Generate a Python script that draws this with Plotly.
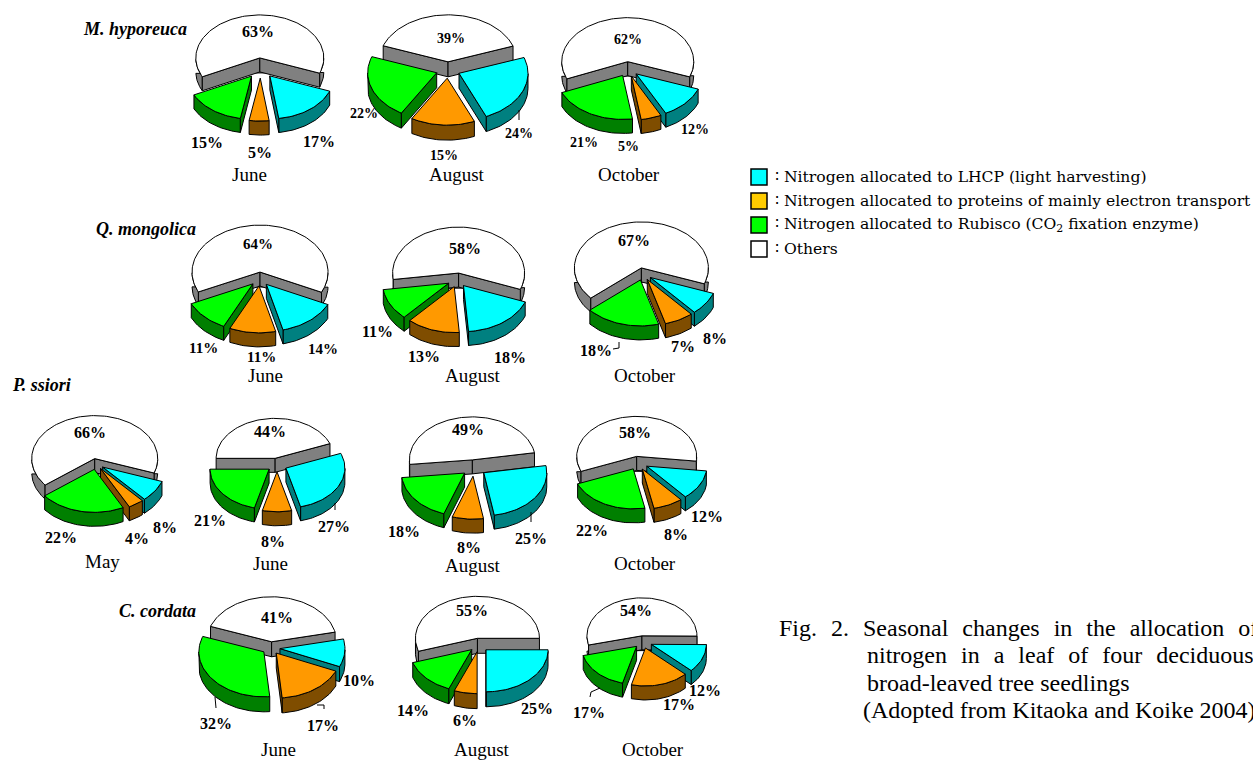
import math
import plotly.graph_objects as go

# ---- data (percent of leaf nitrogen) ----
species = ["M. hyporeuca", "Q. mongolica", "P. ssiori", "C. cordata"]
months = ["June", "August", "October",
          "June", "August", "October",
          "May", "June", "August", "October",
          "June", "August", "October"]
others = [63, 39, 62, 64, 58, 67, 66, 44, 49, 58, 41, 55, 54]
lhcp = [17, 24, 12, 14, 18, 8, 8, 27, 25, 12, 10, 25, 12]
electron = [5, 15, 5, 11, 13, 7, 4, 8, 8, 8, 17, 6, 17]
rubisco = [15, 22, 21, 11, 11, 18, 22, 21, 18, 22, 32, 14, 17]
legend_labels = ["Nitrogen allocated to LHCP (light harvesting)",
                 "Nitrogen allocated to proteins of mainly electron transport",
                 "Nitrogen allocated to Rubisco (CO<sub>2</sub> fixation enzyme)",
                 "Others"]
S = "\u00a0\u00a0\u200a"
caption = [S.join(["Fig.", "2.", "Seasonal", "changes", "in", "the", "allocation", "of"]),
           S.join(["nitrogen", "in", "a", "leaf", "of", "four", "deciduous"]),
           "broad-leaved tree seedlings",
           "(Adopted from Kitaoka and Koike 2004)"]

# ---- layout only: cx, cy, rx, ry, depth, first-slice angle, explosion ----
pies = [
    (260.5, 68, 64, 43, 14, -116, 15), (448, 70, 69, 47, 15, -70, 12), (628, 69, 66, 44, 14, -113, 11),
    (260, 279, 68, 47, 14, -115, 10), (457.5, 280, 66, 46, 14, -98, 10), (643, 274, 67, 46, 14, -131, 9),
    (96, 464, 63, 43, 14, -128, 8), (277, 465, 59, 40, 14, -90, 10), (474, 468, 63, 43, 14, -96, 12),
    (638, 463, 60, 40, 14, -112, 10),
    (271, 648, 65, 45, 15, -70, 9), (479, 645, 62, 42, 15, -108, 10), (643, 642, 55, 38, 14, -104, 9),
]
# label centres: others, lhcp, electron, rubisco, month; and % font size
labels = [
    ((258, 31), (319, 141), (260, 152), (207, 142), (249, 174), 16),
    ((451, 38), (519, 133), (444, 155), (364, 113), (457, 174), 14),
    ((628, 39), (695, 129), (628, 146), (584, 142), (629, 174), 14),
    ((258, 244), (323, 349), (261, 357), (203, 348), (265, 375), 15),
    ((465, 248), (510, 357), (424, 356), (377, 331), (473, 375), 16),
    ((634, 240), (715, 338), (683, 346), (596, 350), (645, 375), 16),
    ((90, 432), (165, 527), (137, 538), (61, 537), (102, 561), 16),
    ((270, 431), (334, 526), (273, 541), (210, 520), (270, 563), 16),
    ((468, 429), (531, 538), (469, 547), (404, 531), (473, 565), 16),
    ((635, 432), (707, 516), (676, 534), (592, 530), (645, 563), 16),
    ((277, 617), (359, 680), (323, 725), (216, 723), (278, 749), 16),
    ((472, 610), (537, 708), (465, 720), (413, 710), (482, 749), 16),
    ((636, 610), (705, 690), (679, 704), (589, 712), (653, 749), 16),
]
TOP = ["#FFFFFF", "#00FFFF", "#FF9900", "#00FF00"]
SIDE = ["#808080", "#008080", "#7F4D00", "#007F00"]
SERIF = "Liberation Serif"

fig = go.Figure()


def poly(xs, ys, color):
    fig.add_trace(go.Scatter(x=xs, y=ys, mode="lines", fill="toself", fillcolor=color,
                             line=dict(color="#000000", width=1), hoverinfo="skip", showlegend=False))


def wedge(cx, cy, rx, ry, depth, t0, t1, explode, top, side):
    mid = math.radians((t0 + t1) / 2)
    ox = cx + explode * math.sin(mid)
    oy = cy - explode * (ry / rx) * math.cos(mid)
    n = max(3, int(abs(t1 - t0) / 2))
    ang = [t0 + (t1 - t0) * k / n for k in range(n + 1)]
    px = [ox + rx * math.sin(math.radians(a)) for a in ang]
    py = [oy - ry * math.cos(math.radians(a)) for a in ang]
    # visible outer wall
    vis = [k for k, a in enumerate(ang) if math.cos(math.radians(a)) < 0]
    if len(vis) > 1:
        xs = [px[k] for k in vis]
        ys = [py[k] for k in vis]
        poly(xs + xs[::-1] + [xs[0]], ys + [y + depth for y in ys[::-1]] + [ys[0]], side)
    # cut faces that look toward the viewer
    if math.sin(math.radians(t0)) < 0:
        poly([ox, px[0], px[0], ox, ox], [oy, py[0], py[0] + depth, oy + depth, oy], side)
    if math.sin(math.radians(t1)) > 0:
        poly([ox, px[-1], px[-1], ox, ox], [oy, py[-1], py[-1] + depth, oy + depth, oy], side)
    poly([ox] + px + [ox], [oy] + py + [oy], top)


for i, p in enumerate(pies):
    cx, cy, rx, ry, depth, start, explode = p
    vals = [others[i], lhcp[i], electron[i], rubisco[i]]
    total = sum(vals)
    spans = []
    a = start
    for j, v in enumerate(vals):
        b = a + 360 * v / total
        spans.append((j, a, b))
        a = b
    spans.sort(key=lambda s: -math.cos(math.radians((s[1] + s[2]) / 2)) if s[0] else -2)
    for j, t0, t1 in spans:
        wedge(cx, cy, rx, ry, depth, t0, t1, explode, TOP[j], SIDE[j])

annotations = []


def text(x, y, s, size, bold=False, italic=False, anchor="center", family=SERIF):
    if bold:
        s = "<b>" + s + "</b>"
    if italic:
        s = "<i>" + s + "</i>"
    annotations.append(dict(x=x, y=y, xref="x", yref="y", text=s, showarrow=False, xanchor=anchor,
                            yanchor="middle", font=dict(family=family, size=size, color="#000000")))


for i, lab in enumerate(labels):
    vals = [others[i], lhcp[i], electron[i], rubisco[i]]
    for j in range(4):
        text(lab[j][0], lab[j][1], f"{vals[j]}%", lab[5], bold=True)
    text(lab[4][0], lab[4][1], months[i], 19)

for s, (x, y) in zip(species, [(135, 29), (146, 229), (41, 385), (157, 611)]):
    text(x, y, s, 18, bold=True, italic=True)

shapes = []
swatches = ["#00FFFF", "#FFCC00", "#00FF00", "#FFFFFF"]
for k, (lab, col) in enumerate(zip(legend_labels, swatches)):
    y = 177 + k * 24
    shapes.append(dict(type="rect", xref="x", yref="y", x0=751, x1=767, y0=y - 8, y1=y + 8,
                       fillcolor=col, line=dict(color="#000000", width=1.5)))
    text(773, y, "\u2236\u00a0" + lab, 15.6, anchor="left", family="DejaVu Serif")

for (x, y, s) in zip([777, 865, 865, 861], [628, 655, 683, 710], caption):
    text(x, y, s, 24, anchor="left")

# leader lines
for xs, ys in [([519, 519], [110, 120]), ([613, 619, 619], [349, 348, 342]),
               ([215, 216], [697, 708]), ([317, 324, 324], [705, 705, 709]),
               ([590, 591, 600], [697, 692, 688]), ([531, 531], [512, 522]),
               ([335, 335], [503, 510])]:
    fig.add_trace(go.Scatter(x=xs, y=ys, mode="lines", line=dict(color="#000000", width=1),
                             hoverinfo="skip", showlegend=False))

fig.update_layout(
    width=1253, height=760, margin=dict(l=0, r=0, t=0, b=0),
    paper_bgcolor="#FFFFFF", plot_bgcolor="#FFFFFF", showlegend=False,
    xaxis=dict(range=[0, 1253], visible=False, fixedrange=True),
    yaxis=dict(range=[760, 0], visible=False, fixedrange=True),
    annotations=annotations, shapes=shapes,
)
fig.write_html("out.html", post_script="document.body.style.margin='0';", config=dict(displayModeBar=False))
